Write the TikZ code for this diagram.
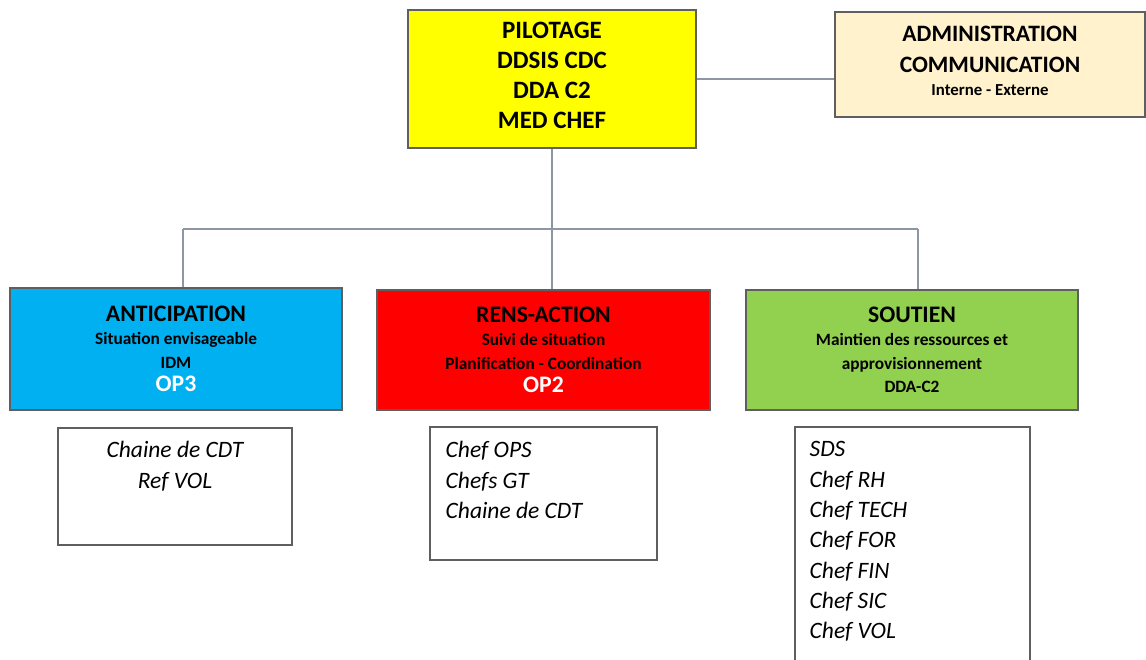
\documentclass[tikz,border=0pt]{standalone}
\usepackage{fontspec}
\setmainfont{Carlito}
\usepackage{tikz}
\usetikzlibrary{shapes,positioning,calc}
\definecolor{pilotyellow}{RGB}{255,255,0}
\definecolor{adminbeige}{RGB}{255,242,204}
\definecolor{anticblue}{RGB}{0,176,240}
\definecolor{rensred}{RGB}{255,0,0}
\definecolor{soutgreen}{RGB}{146,208,80}
\definecolor{boxgray}{RGB}{95,95,95}
\definecolor{linkgray}{RGB}{140,150,165}
\tikzstyle{box} = [draw=boxgray, line width=1.1pt, rectangle, align=center, inner sep=0pt]
\tikzstyle{pole} = [box, minimum height=120pt, font=\fontsize{17.3}{23.5}\selectfont\bfseries]
\tikzstyle{rolebox} = [draw=boxgray, line width=1.1pt, rectangle, fill=white]
\tikzstyle{roletxt} = [inner sep=0pt, font=\fontsize{23.5}{30.3}\selectfont\itshape]
\tikzstyle{link} = [draw=linkgray, line width=1.5pt]
\newcommand{\bigline}{\fontsize{23.7}{26}\selectfont}

\begin{document}
\begin{tikzpicture}[x=1pt,y=-1pt]
							\useasboundingbox (0,0) rectangle (1146,659);
							% direction
							\node[box, fill=pilotyellow, minimum width=288pt, minimum height=138pt, font=\fontsize{25}{30}\selectfont\bfseries, text depth=8pt] (pilot) at (552,79) {PILOTAGE\\DDSIS CDC\\DDA C2\\MED CHEF};
							\node[box, fill=adminbeige, minimum width=310pt, minimum height=105pt, font=\fontsize{23.5}{31}\selectfont\bfseries, text depth=8pt] (admin) at (990,64.5) {ADMINISTRATION\\COMMUNICATION\\[-8pt]{\fontsize{16.8}{18}\selectfont Interne - Externe}};
							% poles
							\node[pole, fill=anticblue, minimum width=332pt, minimum height=122pt] (antic) at (176,349) {{\bigline ANTICIPATION}\\Situation envisageable\\IDM\\{\bigline\color{white}OP3}};
							\node[pole, fill=rensred, minimum width=333pt] (rens) at (543.5,350) {{\bigline RENS-ACTION}\\Suivi de situation\\Planification - Coordination\\{\bigline\color{white}OP2}};
							\node[pole, fill=soutgreen, minimum width=332pt] (sout) at (912,350) {{\bigline SOUTIEN}\\Maintien des ressources et\\approvisionnement\\DDA-C2};
							% roles
							\node[rolebox, minimum width=234pt, minimum height=117pt] (anticroles) at (175,486.5) {};
							\node[rolebox, minimum width=227pt, minimum height=133pt] (rensroles) at (543.5,493.5) {};
							\node[rolebox, minimum width=235pt, minimum height=260pt] (soutroles) at (912.5,557) {};
							\node[roletxt, align=center, anchor=north, below=14pt of anticroles.north] (anticlist) {Chaine de CDT\\Ref VOL};
							\node[roletxt, align=left, anchor=north west, below right=15pt and 16pt of rensroles.north west] (renslist) {Chef OPS\\Chefs GT\\Chaine de CDT};
							\node[roletxt, align=left, anchor=north west, below right=15pt and 15pt of soutroles.north west] (soutlist) {SDS\\Chef RH\\Chef TECH\\Chef FOR\\Chef FIN\\Chef SIC\\Chef VOL};
							% liens
							\coordinate (jl) at (183,229);
							\coordinate (jr) at (918,229);
							\draw[link] (pilot.east) -- (pilot.east -| admin.west);
							\draw[link] (pilot.south) -- (pilot.south |- rens.north);
							\draw[link] (jl) -- (jr);
							\draw[link] (jl) -- (jl |- antic.north);
							\draw[link] (jr) -- (jr |- sout.north);
						\end{tikzpicture}
\end{document}
